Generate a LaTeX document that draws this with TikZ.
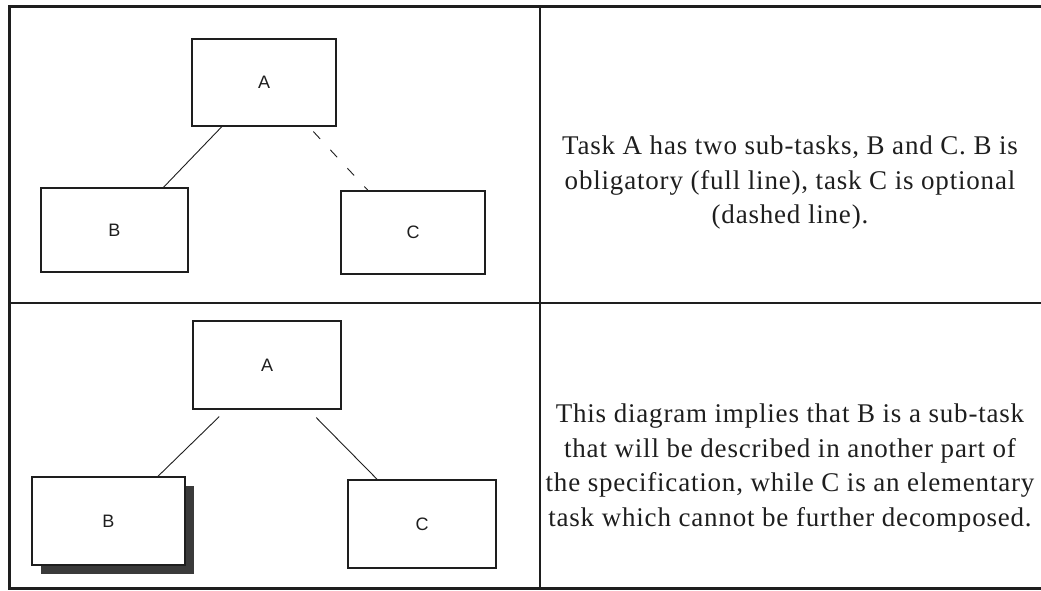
\documentclass[tikz,border=0pt]{standalone}
\usepackage{fontspec}
\setmainfont{Liberation Serif}[LetterSpace=3]
\newfontfamily\boxfont{Liberation Sans}
\usetikzlibrary{calc,shadows}

\definecolor{ink}{HTML}{1E1E1E}
\definecolor{shade}{HTML}{3A3A3A}

\begin{document}
\begin{tikzpicture}[x=1pt,y=-1pt,
  task/.style={draw=ink, line width=1.1pt, fill=white, inner sep=0pt,
    font=\boxfont\fontsize{18}{18}\selectfont, text=ink},
  link/.style={draw=ink, line width=0.9pt},
  optlink/.style={link, dash pattern=on 10pt off 15pt},
  note/.style={align=center, font=\fontsize{27}{34.5}\selectfont, text=ink, inner sep=0pt},
  rule/.style={draw=ink, line width=1.3pt},
  frame/.style={draw=ink, line width=3pt}]

\useasboundingbox (0,0) rectangle (1041,591);

% table: outer frame and cell dividers
\draw[frame] (1041,7) -- (9,7) -- (9,588) -- (1041,588);
\draw[rule] (9,303) -- (1041,303);
\draw[rule] (540,7) -- (540,588);

% first row: obligatory and optional sub-tasks
\node[task, minimum width=144pt, minimum height=87pt] (A1) at (264,82.5) {A};
\node[task, minimum width=147pt, minimum height=84pt] (B1) at (114.5,230) {B};
\node[task, minimum width=144pt, minimum height=83pt] (C1) at (413,232.5) {C};

\draw[link] ($(A1.south west)!0.21!(A1.south east)$) -- ($(B1.north west)!0.83!(B1.north east)$);
\draw[optlink] ($(A1.south west)!0.84!(A1.south east)+(0,5)$) -- ($(C1.north west)!0.19!(C1.north east)$);

\node[note] (T1) at (790,183) {Task A has two sub-tasks, B and C. B is\\
  obligatory (full line), task C is optional\\
  (dashed line).};

% second row: composite and elementary sub-tasks
\node[task, minimum width=148pt, minimum height=88pt] (A2) at (267,365) {A};
\node[task, minimum width=153pt, minimum height=88pt,
  general shadow={fill=shade, shadow xshift=9pt, shadow yshift=-9pt}] (B2) at (108.5,521) {B};
\node[task, minimum width=148pt, minimum height=88pt] (C2) at (422,524) {C};

\draw[link] ($(A2.south west)!0.18!(A2.south east)+(0,7)$) -- ($(B2.north west)!0.82!(B2.north east)$);
\draw[link] ($(A2.south west)!0.83!(A2.south east)+(0,8)$) -- ($(C2.north west)!0.2!(C2.north east)$);

\node[note] (T2) at (790,468) {This diagram implies that B is a sub-task\\
  that will be described in another part of\\
  the specification, while C is an elementary\\
  task which cannot be further decomposed.};
\end{tikzpicture}
\end{document}
